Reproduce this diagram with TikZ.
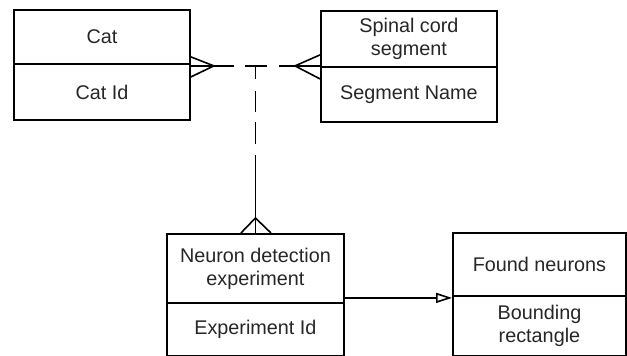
\documentclass[tikz,border=0pt]{standalone}
\usepackage{fontspec}
\setmainfont{Liberation Sans}
\usetikzlibrary{arrows.meta,calc}
\begin{document}
\begin{tikzpicture}[x=1pt,y=-1pt,
  ent/.style={draw, line width=1.9pt, anchor=north west, inner sep=0pt,
    align=center, font=\fontsize{19.8}{23}\selectfont, text=black!85},
  conn/.style={line width=1.6pt},
  foot/.style={line width=1.6pt}]
\useasboundingbox (0,0) rectangle (627,356);
% entities
\node[ent, minimum width=176pt, minimum height=54pt] (catT) at (13,9) {Cat};
\node[ent, minimum width=176pt, minimum height=56pt] (catB) at (13,63) {Cat Id};
\node[ent, minimum width=176pt, minimum height=56pt] (spT) at (320,10) {Spinal cord\\segment};
\node[ent, minimum width=176pt, minimum height=55pt] (spB) at (320,66) {Segment Name};
\node[ent, minimum width=177pt, minimum height=69pt] (neuT) at (166,233) {Neuron detection\\experiment};
\node[ent, minimum width=177pt, minimum height=53pt] (neuB) at (166,302) {Experiment Id};
\node[ent, minimum width=173pt, minimum height=63pt] (fnT) at (452,232) {Found neurons};
\node[ent, minimum width=173pt, minimum height=60pt] (fnB) at (452,295) {Bounding\\rectangle};
% relation: Cat -- Spinal cord segment
\coordinate (catR) at ($(catT.south east)+(0,1)$);
\coordinate (spL) at (catR -| spT.west);
\draw[conn, dash pattern=on 43pt off 11pt on 22pt off 12pt on 60pt] (catR) -- (spL);
\coordinate (j) at (neuT.north |- catR);
\draw[conn, dash pattern=on 13pt off 12pt on 21pt off 10pt on 22pt off 11pt on 120pt] (j) -- (neuT.north);
% crow's feet
\draw[foot] ($(catR)+(0,-9)$) -- ($(catR)+(23,0)$) -- ($(catR)+(0,11)$);
\draw[foot] ($(spL)+(0,-11)$) -- ($(spL)+(-25,0)$) -- ($(spL)+(0,13)$);
\draw[foot] ($(neuT.north)+(-14.5,0)$) -- ($(neuT.north)+(0,-15)$) -- ($(neuT.north)+(15.5,0)$);
% Neuron detection experiment -> Found neurons
\coordinate (aS) at ($(neuT.south east)+(0,-6)$);
\coordinate (aE) at (aS -| fnT.west);
\draw[conn, -{Triangle[open, length=16pt, width=10pt, line width=1.6pt]}] (aS) -- (aE);
\end{tikzpicture}
\end{document}
